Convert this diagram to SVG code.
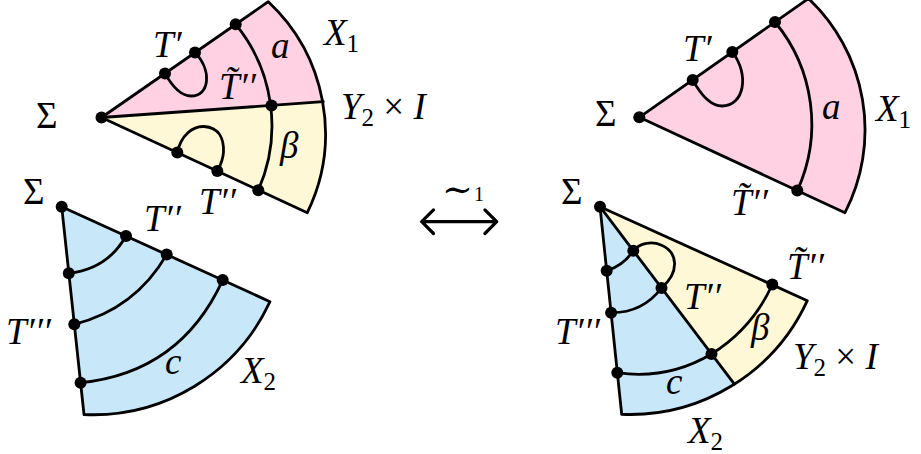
<svg xmlns="http://www.w3.org/2000/svg" width="921" height="454" viewBox="0 0 921 454">
<style>
.pink{fill:#FFD1E3;stroke:none}
.yel{fill:#FFF8D6;stroke:none}
.blue{fill:#C8E8F9;stroke:none}
.ln{fill:none;stroke:#000;stroke-width:2.8;stroke-linejoin:round;stroke-linecap:round}
.dot{fill:#000}
text{font-family:"Liberation Serif","Times New Roman",serif;font-size:37px;fill:#000}
.it{font-style:italic}
.sub{font-size:25px;font-style:normal}
</style>
<defs>
<circle id="d" r="6" class="dot"/>
</defs>

<g id="sector-left-top">
<path class="pink" d="M101.5,117.5 L268.3,1.7 A181,181 0 0 1 323.3,101.7 Z"/>
<path class="yel" d="M101.5,117.5 L323.3,101.7 A181,181 0 0 1 307.3,212.7 Z"/>
<path class="ln" d="M101.5,117.5 L268.3,1.7 A181,181 0 0 1 307.3,212.7 Z"/>
<path class="ln" d="M101.5,117.5 L323.3,101.7"/>
<path class="ln" d="M235.7,24.3 A160,160 0 0 1 258.3,190.3"/>
<path class="ln" d="M165,73.4 C172,86 181,96 191,96 C210,96 212,70 195,52.6"/>
<path class="ln" d="M177.3,152.6 C181,135 193,126 204,126.5 C220,127.5 224,140 223.5,152 C223,161 220,166 217.3,171.1"/>
<use href="#d" x="101.5" y="117.5"/>
<use href="#d" x="165" y="73.4"/>
<use href="#d" x="195" y="52.6"/>
<use href="#d" x="235.7" y="24.3"/>
<use href="#d" x="271.5" y="105.4"/>
<use href="#d" x="177.3" y="152.6"/>
<use href="#d" x="217.3" y="171.1"/>
<use href="#d" x="258.3" y="190.3"/>
<text x="36" y="128">Σ</text>
<text class="it" x="153" y="57">T′</text>
<text class="it" x="271" y="58">a</text>
<text class="it" x="324" y="45">X<tspan class="sub" dy="7">1</tspan></text>
<text class="it" x="219" y="99">T&#x303;′′</text>
<text class="it" x="341" y="119">Y<tspan class="sub" dy="7">2</tspan><tspan dy="-7" font-style="normal"> × </tspan>I</text>
<text class="it" x="280" y="158">β</text>
<text class="it" x="199" y="214">T′′</text>
</g>

<g id="sector-left-bottom">
<path class="blue" d="M61.7,206.7 L270,301.7 A195,195 0 0 1 84,414.5 Z"/>
<path class="ln" d="M61.7,206.7 L270,301.7 A195,195 0 0 1 84,414.5 Z"/>
<path class="ln" d="M68.8,273.3 Q107.4,269 126,236"/>
<path class="ln" d="M74.3,324.3 Q134.9,309.2 166.7,254.6"/>
<path class="ln" d="M80.6,382.7 Q180.3,372.6 222.7,280.1"/>
<use href="#d" x="61.7" y="206.7"/>
<use href="#d" x="126" y="236"/>
<use href="#d" x="166.7" y="254.6"/>
<use href="#d" x="222.7" y="280.1"/>
<use href="#d" x="68.8" y="273.3"/>
<use href="#d" x="74.3" y="324.3"/>
<use href="#d" x="80.6" y="382.7"/>
<text x="23" y="204">Σ</text>
<text class="it" x="144" y="231">T′′</text>
<text class="it" x="6" y="344">T′′′</text>
<text class="it" x="165" y="374">c</text>
<text class="it" x="241" y="383">X<tspan class="sub" dy="7">2</tspan></text>
</g>

<g id="equivalence">
<path class="ln" d="M421.7,221.7 H496.7 M433.5,209.9 L421.7,221.7 L433.5,233.5 M484.9,209.9 L496.7,221.7 L484.9,233.5" style="stroke-width:3.2"/>
<text x="442" y="202" style="font-family:'DejaVu Serif',serif;font-size:37px">∼</text>
<text x="474" y="201" style="font-size:20px">1</text>
</g>

<g id="sector-right-top">
<path class="pink" d="M639.3,117.3 L808.5,-1.5 A181,181 0 0 1 845,212.7 Z"/>
<path class="ln" d="M639.3,117.3 L808.5,-1.5 A181,181 0 0 1 845,212.7 Z"/>
<path class="ln" d="M775,22 A160,160 0 0 1 797.3,190.6"/>
<path class="ln" d="M692.7,79.9 C702,97 712,106 722,106 C744,106 750,75 732.3,52"/>
<use href="#d" x="639.3" y="117.3"/>
<use href="#d" x="692.7" y="79.9"/>
<use href="#d" x="732.3" y="52"/>
<use href="#d" x="775" y="22"/>
<use href="#d" x="797.3" y="190.6"/>
<text x="595" y="126">Σ</text>
<text class="it" x="683" y="61">T′</text>
<text class="it" x="822" y="119">a</text>
<text class="it" x="876" y="121">X<tspan class="sub" dy="7">1</tspan></text>
<text class="it" x="731" y="215">T&#x303;′′</text>
</g>

<g id="sector-right-bottom">
<path class="yel" d="M600,206.7 L807.3,300.7 A195,195 0 0 1 734.4,384.2 Z"/>
<path class="blue" d="M600,206.7 L734.4,384.2 A195,195 0 0 1 621.7,414.3 Z"/>
<path class="ln" d="M600,206.7 L807.3,300.7 A195,195 0 0 1 621.7,414.3 Z"/>
<path class="ln" d="M600,206.7 L734.4,384.2"/>
<path class="ln" d="M606.7,270.7 Q623.6,265.5 633.3,250.7"/>
<path class="ln" d="M611.1,312.7 Q642.5,313 661.5,288"/>
<path class="ln" d="M617.3,372.7 Q667.7,380 711.5,354"/>
<path class="ln" d="M772.3,284.5 Q752.4,328.5 711.5,354"/>
<path class="ln" d="M633.3,250.7 C640,243 652,241 661,245 C678,252 680,272 661.5,288"/>
<use href="#d" x="600" y="206.7"/>
<use href="#d" x="606.7" y="270.7"/>
<use href="#d" x="611.1" y="312.7"/>
<use href="#d" x="617.3" y="372.7"/>
<use href="#d" x="633.3" y="250.7"/>
<use href="#d" x="661.5" y="288"/>
<use href="#d" x="711.5" y="354"/>
<use href="#d" x="772.3" y="284.5"/>
<text x="561" y="204">Σ</text>
<text class="it" x="787" y="279">T&#x303;′′</text>
<text class="it" x="684" y="309">T′′</text>
<text class="it" x="751" y="340">β</text>
<text class="it" x="793" y="369">Y<tspan class="sub" dy="7">2</tspan><tspan dy="-7" font-style="normal"> × </tspan>I</text>
<text class="it" x="666" y="394">c</text>
<text class="it" x="688" y="443">X<tspan class="sub" dy="7">2</tspan></text>
<text class="it" x="555" y="344">T′′′</text>
</g>
</svg>
